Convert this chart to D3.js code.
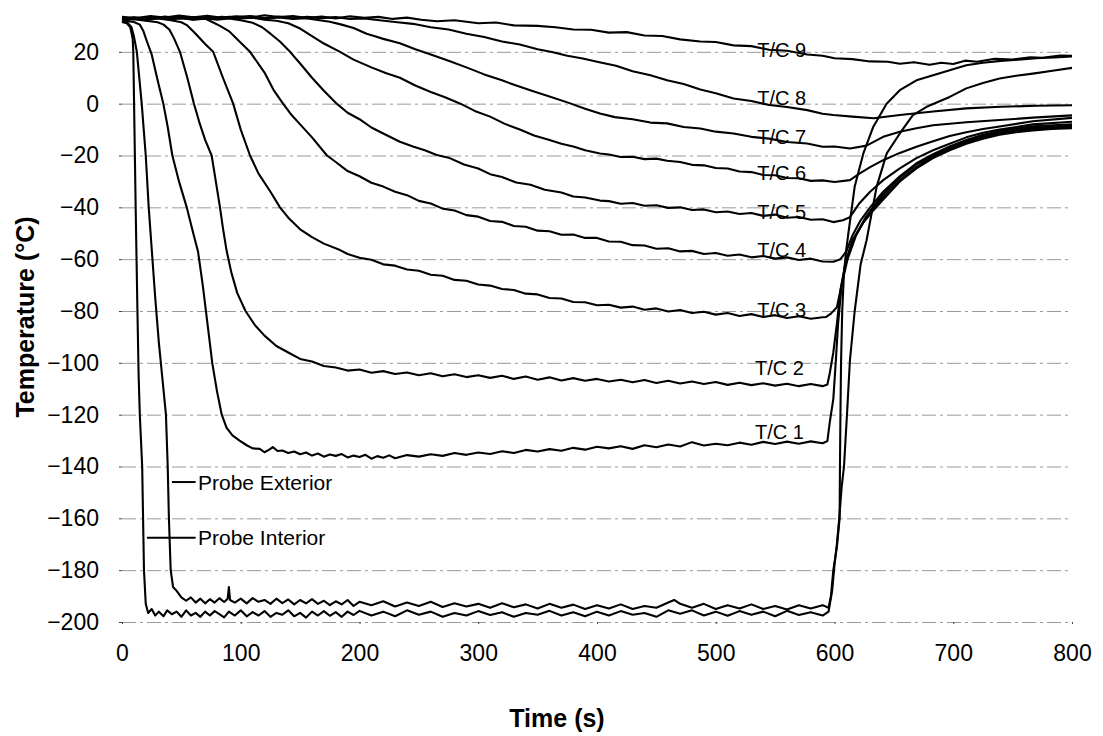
<!DOCTYPE html>
<html>
<head>
<meta charset="utf-8">
<script src="https://cdnjs.cloudflare.com/ajax/libs/d3/7.8.5/d3.min.js"></script>
<style>
  body { margin: 0; background: #fff; }
  text { font-family: 'Liberation Sans', Arial, sans-serif; fill: #000; }
</style>
</head>
<body>
<div id="vis"></div>
<script>
// tick values
const timeTicks = [0, 100, 200, 300, 400, 500, 600, 700, 800];
const tempTicks = [-200, -180, -160, -140, -120, -100, -80, -60, -40, -20, 0, 20];

// traces, [time (s), temperature (C)]
const probeInterior = [[0, 31.5], [4, 31], [7, 29.5], [9, 25], [9.5, 20], [10.5, -10], [11.5, -40], [13, -80], [14, -105], [15, -120], [17, -140], [18.5, -180], [20, -193], [22, -196.5], [25, -195], [28, -197.5], [31, -196], [35, -197.8], [38, -195.5], [42, -197], [46, -196], [50, -198], [54, -195.5], [58, -197.5], [62, -196.5], [66, -198], [70, -196], [74, -197.5], [78, -195.8], [82, -197], [86, -198.2], [90, -196], [95, -197.5], [100, -195.5], [105, -197.8], [110, -196.2], [115, -197.5], [120, -195.8], [125, -198], [130, -196.5], [135, -197.2], [140, -195.5], [145, -197.8], [150, -196.5], [155, -198.3], [160, -196], [165, -197.5], [170, -195.8], [175, -197.6], [180, -196.2], [185, -198], [190, -196], [195, -197.3], [200, -195.7], [210, -197.5], [220, -196], [230, -197.8], [240, -195.5], [250, -197.2], [260, -196], [270, -198], [280, -196.5], [290, -197.5], [300, -195.8], [310, -197.3], [320, -196.2], [330, -198], [340, -196.5], [350, -197.2], [360, -195.7], [370, -197.5], [380, -196.2], [390, -197.8], [400, -196], [410, -197.5], [420, -195.8], [430, -197.2], [440, -196.5], [450, -198], [460, -195.5], [470, -196.8], [480, -195.5], [490, -197.5], [500, -196], [510, -197.6], [520, -195.8], [530, -197.2], [540, -196], [550, -197.8], [560, -195.7], [570, -197.3], [580, -196.2], [590, -197.5], [595, -196], [598, -188], [600, -178], [602, -170], [604, -160], [606, -148], [608, -140], [610.5, -120], [613, -99], [617, -80], [622, -62], [627, -52.7], [635.5, -32], [644, -19.2], [655, -11.5], [666, -4.4], [677.6, -1.2], [690, 1.2], [697, 2.6], [711, 5.9], [725, 8], [739, 9.7], [753, 10.8], [767, 11.6], [785, 12.8], [800, 13.8]];

const probeExterior = [[0, 32], [4, 31.5], [8, 29.5], [10, 26], [12.5, 20], [16.6, 0], [20, -20], [22.5, -40], [25, -56], [28, -75], [31, -92], [34, -106], [37, -120], [38.5, -140], [39.5, -160], [41, -180], [43, -186.5], [46, -188], [50, -190.5], [54, -191.8], [58, -190.5], [62, -192.5], [66, -191], [70, -192.8], [74, -191.2], [78, -192.5], [82, -190.8], [86, -192.3], [89, -191], [90, -186.5], [91, -191.5], [95, -192.5], [100, -191], [105, -192.8], [110, -190.8], [115, -192.2], [120, -191.5], [125, -193], [130, -191], [135, -192.7], [140, -191.3], [145, -193.2], [150, -191.5], [155, -192.8], [160, -191.2], [165, -193], [170, -191.8], [175, -193.5], [180, -192], [185, -193.2], [190, -191.5], [195, -193.8], [200, -192.2], [210, -193.5], [220, -192], [230, -194], [240, -192.5], [250, -193.8], [260, -192.2], [270, -194.2], [280, -192.8], [290, -194], [300, -193], [310, -194.5], [320, -192.8], [330, -194.3], [340, -193.2], [350, -194.8], [360, -193], [370, -194.5], [380, -193.3], [390, -195], [400, -193.5], [410, -194.8], [420, -193.2], [430, -195], [440, -193.8], [450, -194.5], [460, -192.5], [465, -191.5], [470, -193], [480, -194.5], [490, -193], [500, -195], [510, -193.5], [520, -194.8], [530, -193.2], [540, -195], [550, -193.8], [560, -195.2], [570, -193.5], [580, -194.8], [590, -193.5], [595, -194.5], [597, -190], [599, -180], [602, -171], [604.3, -160], [604.6, -140], [605, -120], [605.5, -100], [606.5, -80], [608, -65], [610, -56], [611.7, -50], [617, -32], [624.3, -19.2], [632.7, -8.9], [643.9, 0], [655, 5.2], [669, 9], [683, 11], [697, 12.9], [711, 14.8], [725, 15.8], [740, 16.5], [755, 17], [770, 17.5], [785, 17.8], [800, 18.2]];

const tc1 = [[0, 32], [5, 31.8], [10, 31.5], [15, 30.5], [18, 28], [21, 24], [25, 19], [30, 9], [34.8, 0], [38.5, -9], [42.4, -20], [48, -30], [54.5, -40], [60, -50], [64, -57], [68, -70], [72, -85], [76, -100], [80, -111], [84, -120], [88, -125], [93, -128], [99, -130], [105, -131.8], [110, -133], [116, -133.2], [120, -134.5], [124, -133.5], [127, -132.5], [131, -134], [135, -133.8], [140, -134.8], [145, -134.2], [150, -135.3], [155, -134.6], [160, -135.8], [165, -135], [170, -136.2], [175, -135.4], [180, -135.9], [185, -135.2], [190, -136.5], [195, -135.8], [200, -136.3], [205, -135.5], [210, -137], [215, -136], [220, -136.6], [225, -135.7], [230, -136.8], [240, -135.6], [250, -136.2], [260, -135.3], [270, -135.9], [280, -134.8], [290, -135.5], [300, -134.6], [310, -135.2], [320, -134.1], [330, -134.8], [340, -133.6], [350, -134.2], [360, -133.3], [370, -133.9], [380, -132.8], [390, -133.5], [400, -132.4], [410, -133], [420, -132.2], [430, -133.2], [440, -131.8], [450, -132.6], [460, -131.5], [470, -132.3], [480, -130.6], [490, -131.9], [500, -131.2], [510, -131.8], [520, -130.8], [530, -131.6], [540, -130.5], [550, -131.3], [560, -130.4], [570, -131.2], [580, -130.3], [590, -131], [594, -130.2], [596, -123], [599, -114], [601, -100], [603, -85], [606, -70], [610, -60], [616, -52], [624, -46], [633, -41], [641, -37], [655, -30], [669, -25], [683, -21], [697, -18], [711, -15.5], [725, -13.5], [739, -12], [753, -11], [767, -10.3], [783, -9.8], [800, -9.5]];

const tc2 = [[0, 32.2], [10, 32.6], [20, 32], [30, 31.4], [35, 30.5], [40, 28.5], [44, 25], [48.8, 20], [55, 10], [60.6, 0], [65, -7], [70, -14], [75.5, -20], [79, -30], [82.5, -40], [85, -48], [88, -56.5], [92, -65], [97, -73], [104, -80], [112, -85.5], [120, -89.5], [130, -93.5], [140, -96], [150, -98.5], [160, -99.5], [170, -101.2], [180, -101.8], [190, -103], [200, -102.6], [210, -103.8], [220, -103.2], [230, -104.3], [240, -103.7], [250, -104.8], [260, -104], [270, -105.2], [280, -104.4], [290, -105.5], [300, -104.8], [310, -105.8], [320, -105], [330, -106.2], [340, -105.3], [350, -106.5], [360, -105.6], [370, -106.8], [380, -105.9], [390, -106.9], [400, -106.2], [410, -107.2], [420, -106.5], [430, -107.5], [440, -106.6], [450, -107.8], [460, -106.9], [470, -108], [480, -107.2], [490, -108.2], [500, -107.4], [510, -108.5], [520, -107.7], [530, -108.6], [540, -107.9], [550, -108.8], [560, -108.1], [570, -109], [580, -108.2], [590, -109], [594, -108.4], [596, -104], [599, -96], [602, -85], [605, -72], [609, -62], [615, -53], [624, -46], [633, -40.5], [641, -36], [655, -29.5], [669, -24.5], [683, -20.5], [697, -17.5], [711, -15], [725, -13], [739, -11.5], [753, -10.5], [767, -9.8], [783, -9.3], [800, -9]];

const tc3 = [[0, 32.3], [10, 32.8], [20, 32.2], [30, 32.9], [40, 32.3], [50, 31.4], [55, 30.2], [62, 27], [70, 23], [76.8, 20], [85, 10], [93.6, 0], [100, -10], [107.8, -20], [115, -27], [125, -34], [133, -40], [140, -44], [150, -48.5], [160, -51.5], [170, -54], [183.6, -56.5], [190, -58], [200, -59.5], [210, -60.2], [220, -62], [230, -62.5], [240, -64], [250, -64.5], [260, -66], [270, -66.4], [280, -68], [290, -68.3], [300, -69.8], [310, -70.2], [320, -71.5], [330, -71.9], [340, -73.3], [350, -73.6], [360, -75], [370, -75.2], [380, -76.5], [390, -76.6], [400, -77.8], [410, -77.6], [420, -78.7], [430, -78.3], [440, -79.5], [450, -79], [460, -80.2], [470, -79.6], [480, -80.8], [490, -80.3], [500, -81.4], [510, -80.8], [520, -81.9], [530, -81.2], [540, -82.3], [550, -81.6], [560, -82.7], [570, -82], [580, -83], [590, -82.4], [593, -82.3], [597, -81], [602, -78.5], [606, -70], [611, -60], [618, -51], [626, -44], [634, -39], [641, -35], [655, -28.5], [669, -23.5], [683, -20], [697, -17], [711, -14.5], [725, -12.5], [739, -11], [767, -9.3], [800, -8.5]];

const tc4 = [[0, 32.5], [10, 33], [20, 32.4], [30, 33.1], [40, 32.5], [50, 33], [60, 32.4], [70, 32.8], [76, 31.5], [82.5, 30], [90, 28], [100, 23.5], [107.8, 20], [120, 12], [128, 5], [135.6, 0], [143, -4.5], [150, -8], [160, -13], [172.6, -20], [180, -22.5], [190, -26], [200, -28], [210, -30.5], [220, -32], [230, -34], [240, -35.3], [250, -37.5], [260, -38.5], [270, -40.5], [280, -41.2], [290, -43], [300, -43.6], [310, -45.3], [320, -45.6], [330, -47.2], [340, -47.5], [350, -49], [360, -49.2], [370, -50.6], [380, -50.5], [390, -51.8], [400, -51.8], [410, -53.2], [420, -53.3], [430, -54.6], [440, -54.7], [450, -56], [460, -55.8], [470, -57], [480, -56.8], [490, -58], [500, -57.6], [510, -58.7], [520, -58.2], [530, -59.3], [540, -58.8], [550, -59.8], [560, -59.3], [570, -60.3], [580, -59.8], [590, -60.9], [599, -61], [605, -60], [610, -57], [615, -51], [622, -45], [630, -40], [641, -34], [655, -28], [669, -23], [683, -19.5], [697, -16.5], [711, -14], [725, -12], [739, -10.5], [767, -8.7], [800, -8]];

const tc5 = [[0, 32.6], [10, 33.1], [20, 32.5], [30, 33.2], [40, 32.6], [50, 33.1], [60, 32.5], [70, 33], [80, 32.4], [90, 32.9], [100, 32.2], [110, 31.2], [118, 29.5], [125, 27], [133, 24], [141.5, 20], [150, 15.5], [160, 10], [170, 5], [180.8, 0], [190, -3.5], [200, -6], [210, -9.2], [220, -11.5], [234, -14.7], [245, -16.5], [255, -18], [265, -19.8], [276, -21], [288, -23.5], [300, -25], [310, -27.2], [320, -28.3], [332, -30.4], [344, -31.3], [356, -33.2], [370, -34.3], [380, -35.8], [390, -36.2], [402.5, -37.4], [410, -37.6], [420, -38.6], [430, -38.3], [440, -39.4], [450, -39.2], [460, -40.2], [470, -40], [480, -41], [490, -40.8], [500, -41.9], [510, -41.6], [520, -42.6], [530, -42.2], [540, -43.3], [550, -42.8], [560, -44], [570, -43.7], [580, -44.8], [590, -44.6], [599, -45.7], [607, -45], [613, -43.8], [621, -38.4], [630, -34], [641, -29.5], [655, -25], [669, -21], [683, -18], [697, -15.5], [711, -13], [725, -11.2], [739, -10], [767, -8], [800, -7]];

const tc6 = [[0, 32.7], [10, 33.3], [20, 32.5], [30, 33.4], [40, 32.8], [50, 33.5], [60, 32.6], [70, 33.2], [80, 32.7], [90, 33.5], [100, 32.9], [110, 33.2], [120, 32.4], [130, 32], [140, 31], [150, 29], [158, 26.6], [170, 23.2], [183.6, 20], [195, 17], [210, 14], [222, 11.8], [234, 10], [247, 7], [260, 4.5], [272, 2.5], [285, 0], [297, -2.8], [310, -5], [322, -7.7], [335, -10], [347, -12.3], [360, -14], [370, -15.5], [380, -16.5], [390, -18], [402.5, -19.2], [410, -19.6], [420, -20.6], [430, -20.5], [440, -21.4], [450, -21.2], [459, -22], [470, -22.5], [480, -23.6], [490, -23.8], [500, -24.8], [510, -25], [520, -26.2], [530, -26.4], [540, -27.5], [550, -27.6], [560, -28.7], [570, -28.8], [580, -29.8], [590, -29.6], [600, -30.2], [613, -29.5], [621, -27], [630, -24.5], [641, -21.8], [655, -19], [669, -16.6], [683, -14.5], [697, -12.5], [711, -11], [725, -9.8], [739, -8.8], [767, -6.8], [800, -5.5]];

const tc7 = [[0, 32.4], [12, 33.2], [24, 32.7], [36, 33.6], [48, 32.9], [60, 33.4], [72, 32.6], [84, 33.5], [96, 33], [108, 33.6], [120, 32.8], [132, 33.3], [144, 32.7], [155, 33], [165, 32.3], [175, 31.6], [185, 30.5], [195, 29.2], [206, 27], [213, 26], [220, 25], [234, 23.3], [247, 21], [260, 19], [275, 16.6], [290, 14], [305, 11.3], [320, 9], [332, 7], [345, 5], [360, 2.8], [375, 0.5], [390, -2], [402.5, -3.8], [415, -5.2], [430, -6], [445, -7.3], [459, -7.6], [473, -9], [487, -9.6], [500, -10.8], [515, -11.5], [530, -12.8], [545, -13.5], [560, -14.8], [577, -15.4], [590, -16.6], [600, -16.5], [613, -17.3], [627, -16.2], [641, -12.8], [655, -10.8], [669, -9.5], [683, -8.3], [711, -7.2], [739, -6.3], [767, -5.4], [800, -4.5]];

const tc8 = [[0, 33.2], [12, 32.6], [24, 33.5], [36, 32.9], [48, 33.7], [60, 33.1], [72, 33.6], [84, 32.8], [96, 33.4], [108, 33.8], [120, 33], [132, 33.6], [144, 32.9], [156, 33.5], [168, 33], [180, 33.4], [192, 32.7], [204, 32.9], [215, 32.3], [230, 31.5], [245, 30.8], [260, 29.5], [275, 28.6], [290, 27], [305, 25.7], [320, 24], [335, 22.8], [350, 21], [362, 19.9], [375, 18.5], [388, 17.4], [402, 16], [416, 14.6], [430, 12.5], [445, 11], [459, 9], [473, 7.6], [487, 5.5], [500, 4], [515, 2], [530, 1], [545, -0.5], [560, -1.3], [577, -2.5], [590, -3.9], [599, -4.4], [615, -5], [633, -5.6], [655, -4.4], [683, -3], [711, -1.8], [740, -1.2], [770, -0.8], [800, -0.6]];

const tc9 = [[0, 33.5], [12, 33], [24, 33.8], [36, 33.2], [48, 34], [60, 33.3], [72, 33.9], [84, 33.1], [96, 33.7], [108, 33.2], [120, 34.1], [132, 33.4], [144, 33.8], [156, 33], [168, 33.6], [180, 32.9], [192, 33.7], [204, 33.1], [216, 33.5], [228, 32.7], [240, 33.2], [252, 32.4], [265, 31.8], [280, 32.2], [300, 31], [315, 31.3], [330, 30.2], [350, 30], [365, 29.5], [380, 28.6], [395, 28.5], [410, 27.4], [425, 27.6], [440, 26.3], [455, 26.1], [470, 24.8], [487, 24], [500, 23.8], [515, 22.5], [530, 22.2], [545, 20.8], [560, 20.4], [577, 19], [590, 18.5], [600, 17.5], [615, 17.2], [630, 16.3], [645, 16.2], [655, 15.4], [667, 16], [680, 15], [690, 15.8], [700, 15.3], [710, 16.6], [720, 16.2], [735, 17.3], [750, 17], [765, 17.9], [775, 17.7], [790, 18.6], [800, 18.5]];

const tcNames = ['T/C 1', 'T/C 2', 'T/C 3', 'T/C 4', 'T/C 5', 'T/C 6', 'T/C 7', 'T/C 8', 'T/C 9'];
const probeNames = ['Probe Exterior', 'Probe Interior'];

const tcSeries = [tc1, tc2, tc3, tc4, tc5, tc6, tc7, tc8, tc9];
const probeSeries = [probeExterior, probeInterior];

// set the dimensions and margins of the graph
const margin = {top: 0, right: 31, bottom: 114, left: 122};
const width = 1103 - margin.left - margin.right;
const height = 736 - margin.top - margin.bottom;

const svg = d3.select('#vis')
  .append('svg')
  .attr('width', 1103)
  .attr('height', 736)
  .append('g')
  .attr('transform', 'translate(' + margin.left + ',' + margin.top + ')');

const x = d3.scaleLinear().domain([0, 800]).range([0, width]);
const y = d3.scaleLinear().domain([-200, 40]).range([height, 0]);

// dash-dot gridlines
svg.append('g')
  .call(d3.axisLeft(y).tickValues(tempTicks).tickSize(-width).tickFormat(''))
  .call((g) => g.select('.domain').remove())
  .selectAll('line')
  .attr('stroke', '#9a9a9a')
  .attr('stroke-dasharray', '14,4,3,4');

// Y axis
svg.append('g')
  .call(d3.axisLeft(y).tickValues(tempTicks).tickSize(3).tickPadding(20))
  .call((g) => g.select('.domain').remove())
  .call((g) => g.selectAll('line').attr('stroke', '#444'))
  .selectAll('text')
  .style('font-size', '23px');

// X axis
svg.append('g')
  .attr('transform', 'translate(0,' + height + ')')
  .call(d3.axisBottom(x).tickValues(timeTicks).tickSize(2).tickPadding(21))
  .call((g) => g.select('.domain').remove())
  .call((g) => g.selectAll('line').attr('stroke', '#444'))
  .selectAll('text')
  .style('font-size', '23px');

const line = d3.line()
  .x((d) => x(d[0]))
  .y((d) => y(d[1]));

// traces
svg.selectAll('.trace')
  .data(probeSeries.concat(tcSeries))
  .enter()
  .append('path')
  .attr('class', 'trace')
  .attr('d', line)
  .attr('fill', 'none')
  .attr('stroke', '#000')
  .attr('stroke-width', 2.1)
  .attr('stroke-linejoin', 'round');

// T/C labels sit on the traces near t = 535 s
const tcLabelTemp = [-126.7, -102, -79.6, -56.5, -41.8, -26.8, -12.9, 2.1, 20.7];
svg.selectAll('.tclabel')
  .data(tcNames)
  .enter()
  .append('text')
  .attr('class', 'tclabel')
  .attr('x', (d, i) => x(i < 2 ? 533 : 535))
  .attr('y', (d, i) => y(tcLabelTemp[i]))
  .attr('dy', '0.36em')
  .style('font-size', '20px')
  .text((d) => d);

// probe labels with leader lines from the traces
const probeLabelTemp = [-146, -167.5];
const probeLeaderStart = [42, 21];
probeNames.forEach((name, i) => {
  svg.append('line')
    .attr('x1', x(probeLeaderStart[i]))
    .attr('x2', x(62))
    .attr('y1', y(probeLabelTemp[i]))
    .attr('y2', y(probeLabelTemp[i]))
    .attr('stroke', '#000')
    .attr('stroke-width', 2);
  svg.append('text')
    .attr('x', x(64))
    .attr('y', y(probeLabelTemp[i]))
    .attr('dy', '0.36em')
    .style('font-size', '21px')
    .text(name);
});

// axis titles
svg.append('text')
  .attr('x', 435)
  .attr('y', 727)
  .attr('text-anchor', 'middle')
  .style('font-size', '25px')
  .style('font-weight', 'bold')
  .text('Time (s)');

svg.append('text')
  .attr('transform', 'translate(' + (34 - margin.left) + ',317)rotate(-90)')
  .attr('text-anchor', 'middle')
  .style('font-size', '25px')
  .style('font-weight', 'bold')
  .text('Temperature (°C)');
</script>
</body>
</html>
